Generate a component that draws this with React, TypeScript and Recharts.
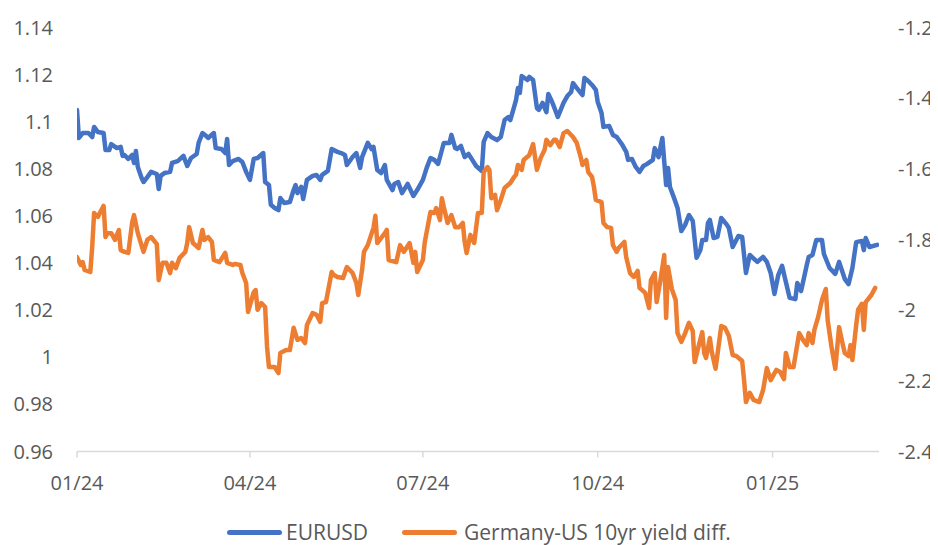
import React from "react";
import { LineChart, Line, XAxis, YAxis } from "recharts";

// Day offsets from 2024-01-01 and EURUSD values
const eurDays = [0,1,3,6,8,9,11,14,15,17,18,21,23,24,25,27,29,30,31,32,34,35,37,39,42,43,44,46,49,50,53,56,58,60,63,64,66,68,69,72,73,76,78,79,80,82,85,87,89,91,93,95,98,99,101,102,104,106,107,109,112,114,115,116,118,119,121,124,126,128,129,132,134,137,139,141,142,145,147,149,150,153,155,156,158,160,162,163,166,167,169,171,174,177,179,182,184,186,188,190,192,193,196,197,199,200,202,204,206,208,210,213,214,216,218,221,223,225,227,228,230,231,232,233,234,237,238,240,242,243,245,247,248,250,251,253,256,258,260,261,263,266,267,269,271,273,274,276,277,280,282,284,287,289,290,292,294,296,298,300,303,304,306,308,310,311,312,314,316,318,320,322,324,326,328,329,331,332,333,335,337,339,342,343,345,348,350,352,354,358,361,363,365,367,369,371,373,375,378,379,381,384,385,387,389,392,393,396,399,401,404,406,408,410,413,414,415,417,421];
const eurValues = [1.105,1.0931,1.0952,1.0952,1.0935,1.0978,1.0956,1.0952,1.088,1.088,1.0905,1.0888,1.0893,1.0855,1.0859,1.0842,1.0859,1.0825,1.0876,1.0808,1.0761,1.0744,1.0765,1.0787,1.0778,1.0714,1.077,1.0782,1.0787,1.0825,1.0833,1.0855,1.0812,1.0846,1.0863,1.091,1.0952,1.0939,1.0931,1.0952,1.0888,1.0884,1.0867,1.0927,1.0816,1.0833,1.0842,1.0829,1.0787,1.0753,1.0842,1.0846,1.0867,1.0744,1.0731,1.0647,1.0634,1.0625,1.0676,1.0655,1.0659,1.071,1.0731,1.0697,1.0723,1.0672,1.0753,1.077,1.0774,1.0753,1.0774,1.0791,1.0884,1.0872,1.0867,1.0859,1.0816,1.085,1.0867,1.0804,1.085,1.091,1.0884,1.0893,1.0795,1.0782,1.0816,1.0753,1.071,1.0736,1.0744,1.0697,1.0736,1.0685,1.071,1.0753,1.0804,1.0846,1.0838,1.0821,1.088,1.091,1.091,1.0944,1.0888,1.0884,1.0897,1.085,1.0863,1.0838,1.0812,1.0791,1.0914,1.0952,1.0935,1.0922,1.0935,1.1007,1.102,1.1007,1.1063,1.1092,1.1143,1.1122,1.1194,1.1177,1.119,1.1177,1.1058,1.105,1.108,1.1041,1.1118,1.1084,1.1063,1.102,1.108,1.1109,1.1126,1.1164,1.1143,1.1113,1.1186,1.1173,1.1156,1.1135,1.1084,1.1037,1.0978,1.0982,1.0944,1.0935,1.0901,1.0872,1.0838,1.0842,1.0808,1.0787,1.0812,1.0821,1.0838,1.0888,1.085,1.0931,1.0731,1.0804,1.0723,1.068,1.0634,1.0536,1.0562,1.0604,1.0579,1.0422,1.0455,1.0498,1.0498,1.057,1.0583,1.0506,1.0511,1.0591,1.0562,1.0549,1.0468,1.0515,1.0511,1.0358,1.0434,1.0405,1.0426,1.0405,1.0358,1.0269,1.0349,1.0388,1.032,1.0252,1.0247,1.0315,1.0281,1.0392,1.0426,1.0434,1.0498,1.0498,1.0439,1.0379,1.0354,1.0405,1.0332,1.0311,1.0379,1.0489,1.0494,1.0455,1.0506,1.0468,1.0477];

// Day offsets from 2024-01-01 and Germany-US 10yr yield differential values
const diffDays = [0,2,3,4,7,8,9,11,12,14,15,16,18,20,22,23,25,27,29,30,32,35,37,39,42,43,45,47,49,50,52,54,57,58,59,61,64,66,67,69,71,72,75,78,79,82,83,86,87,89,90,93,94,95,97,99,100,101,104,106,107,110,112,114,116,118,120,121,124,126,128,129,131,134,135,137,140,142,145,147,148,150,151,153,156,157,158,160,162,163,164,166,168,170,172,175,177,178,179,182,183,186,188,189,191,192,193,195,197,199,201,203,204,205,207,209,211,213,214,216,217,218,220,221,223,225,228,230,231,232,234,235,237,238,240,242,244,246,247,249,251,252,254,256,258,261,263,265,266,268,269,271,272,273,276,277,279,281,282,284,285,288,289,291,293,295,296,299,301,302,304,305,307,309,310,311,313,315,316,318,320,322,324,325,327,329,330,331,333,334,336,339,341,343,345,347,350,351,352,354,356,359,361,363,365,368,370,372,373,375,377,380,382,384,385,387,388,390,392,394,395,397,399,401,403,404,406,407,408,410,411,413,414,415,418,420];
const diffValues = [-1.85,-1.872,-1.864,-1.886,-1.892,-1.821,-1.725,-1.736,-1.725,-1.705,-1.793,-1.782,-1.782,-1.801,-1.773,-1.83,-1.835,-1.838,-1.753,-1.731,-1.782,-1.835,-1.801,-1.793,-1.813,-1.915,-1.866,-1.866,-1.895,-1.866,-1.881,-1.852,-1.835,-1.81,-1.765,-1.81,-1.824,-1.773,-1.801,-1.793,-1.807,-1.858,-1.864,-1.838,-1.866,-1.872,-1.869,-1.872,-1.895,-1.923,-2.005,-1.949,-1.943,-1.999,-1.98,-1.991,-2.104,-2.161,-2.161,-2.178,-2.121,-2.113,-2.113,-2.05,-2.084,-2.079,-2.093,-2.042,-2.008,-2.013,-2.033,-1.98,-1.977,-1.892,-1.9,-1.906,-1.909,-1.878,-1.895,-1.923,-1.957,-1.886,-1.835,-1.816,-1.767,-1.733,-1.81,-1.796,-1.782,-1.773,-1.858,-1.861,-1.864,-1.816,-1.835,-1.81,-1.866,-1.835,-1.892,-1.858,-1.807,-1.722,-1.725,-1.711,-1.745,-1.683,-1.708,-1.753,-1.731,-1.765,-1.765,-1.753,-1.807,-1.838,-1.787,-1.81,-1.725,-1.725,-1.609,-1.595,-1.603,-1.683,-1.674,-1.717,-1.688,-1.654,-1.64,-1.623,-1.617,-1.589,-1.603,-1.575,-1.566,-1.561,-1.53,-1.603,-1.569,-1.547,-1.518,-1.533,-1.518,-1.518,-1.538,-1.499,-1.493,-1.51,-1.527,-1.566,-1.589,-1.575,-1.609,-1.623,-1.651,-1.688,-1.694,-1.753,-1.765,-1.767,-1.816,-1.835,-1.824,-1.807,-1.85,-1.895,-1.906,-1.889,-1.937,-1.951,-1.994,-1.915,-1.895,-1.977,-1.915,-1.844,-2.022,-1.878,-1.94,-1.971,-2.065,-2.09,-2.065,-2.036,-2.059,-2.147,-2.104,-2.062,-2.121,-2.135,-2.079,-2.118,-2.166,-2.045,-2.05,-2.073,-2.127,-2.13,-2.144,-2.198,-2.26,-2.234,-2.254,-2.26,-2.226,-2.164,-2.198,-2.169,-2.175,-2.195,-2.121,-2.161,-2.161,-2.065,-2.084,-2.099,-2.065,-2.093,-2.056,-2.019,-1.971,-1.94,-2.028,-2.104,-2.166,-2.048,-2.099,-2.121,-2.13,-2.099,-2.141,-2.042,-1.999,-1.982,-2.056,-1.977,-1.957,-1.937];

// Axis ticks
const xTickDays = [0, 91, 182, 274, 366];
const xTickLabels = ["01/24", "04/24", "07/24", "10/24", "01/25"];
const leftTicks = [0.96, 0.98, 1.0, 1.02, 1.04, 1.06, 1.08, 1.1, 1.12, 1.14];
const rightTicks = [-2.4, -2.2, -2.0, -1.8, -1.6, -1.4, -1.2];

const seriesNames = ["EURUSD", "Germany-US 10yr yield diff."];
const BLUE = "#4472C4";
const ORANGE = "#ED7D31";
const TEXT = "#595959";
const FONT = "'Open Sans', 'Liberation Sans', sans-serif";
const FS = 20;

const eurData = eurDays.map((d, i) => ({ day: d, v: eurValues[i] }));
const diffData = diffDays.map((d, i) => ({ day: d, v: diffValues[i] }));

const fmt = (v: number) => String(Number(v.toFixed(2)));
const fmtX = (v: number) => {
  const i = xTickDays.indexOf(v);
  return i >= 0 ? xTickLabels[i] : "";
};

export default function App() {
  const tickStyle = { fill: TEXT, fontSize: FS, fontFamily: FONT };
  const legendText: React.CSSProperties = {
    fontSize: 21,
    lineHeight: "22px",
    color: TEXT,
    whiteSpace: "nowrap",
  };
  return (
    <div style={{ position: "relative", width: 930, height: 537, fontFamily: FONT }}>
      <LineChart
        width={930}
        height={537}
        margin={{ top: 19.5, right: 0, bottom: 53.5, left: 0 }}
      >
        <XAxis
          type="number"
          dataKey="day"
          domain={[0, 422]}
          ticks={xTickDays}
          tickFormatter={fmtX}
          allowDataOverflow
          height={40}
          axisLine={{ stroke: "#d9d9d9", strokeWidth: 1.5 }}
          tickLine={{ stroke: "#d9d9d9", strokeWidth: 1.5 }}
          tickSize={6}
          tickMargin={18}
          tick={tickStyle}
          interval={0}
        />
        <YAxis
          yAxisId="left"
          orientation="left"
          domain={[0.96, 1.14]}
          ticks={leftTicks}
          tickFormatter={fmt}
          width={69}
          axisLine={false}
          tickLine={false}
          tickSize={0}
          tickMargin={24}
          tick={tickStyle}
          interval={0}
          allowDataOverflow
        />
        <YAxis
          yAxisId="right"
          orientation="right"
          domain={[-2.4, -1.2]}
          ticks={rightTicks}
          tickFormatter={fmt}
          width={59}
          axisLine={false}
          tickLine={false}
          tickSize={0}
          tickMargin={19}
          tick={tickStyle}
          interval={0}
          allowDataOverflow
        />
        <Line
          yAxisId="left"
          data={eurData}
          dataKey="v"
          name={seriesNames[0]}
          stroke={BLUE}
          strokeWidth={4.5}
          strokeLinejoin="round"
          strokeLinecap="round"
          dot={false}
          activeDot={false}
          type="linear"
          isAnimationActive={false}
        />
        <Line
          yAxisId="right"
          data={diffData}
          dataKey="v"
          name={seriesNames[1]}
          stroke={ORANGE}
          strokeWidth={4.5}
          strokeLinejoin="round"
          strokeLinecap="round"
          dot={false}
          activeDot={false}
          type="linear"
          isAnimationActive={false}
        />
      </LineChart>
      <div style={{ position: "absolute", left: 219, top: 513, display: "flex", alignItems: "center", height: 22 }}>
        <div style={{ width: 55, height: 5, borderRadius: 3, background: BLUE }} />
        <span style={{ ...legendText, marginLeft: 4 }}>{seriesNames[0]}</span>
      </div>
      <div style={{ position: "absolute", left: 394, top: 513, display: "flex", alignItems: "center", height: 22 }}>
        <div style={{ width: 55, height: 5, borderRadius: 3, background: ORANGE }} />
        <span style={{ ...legendText, marginLeft: 7 }}>{seriesNames[1]}</span>
      </div>
    </div>
  );
}
